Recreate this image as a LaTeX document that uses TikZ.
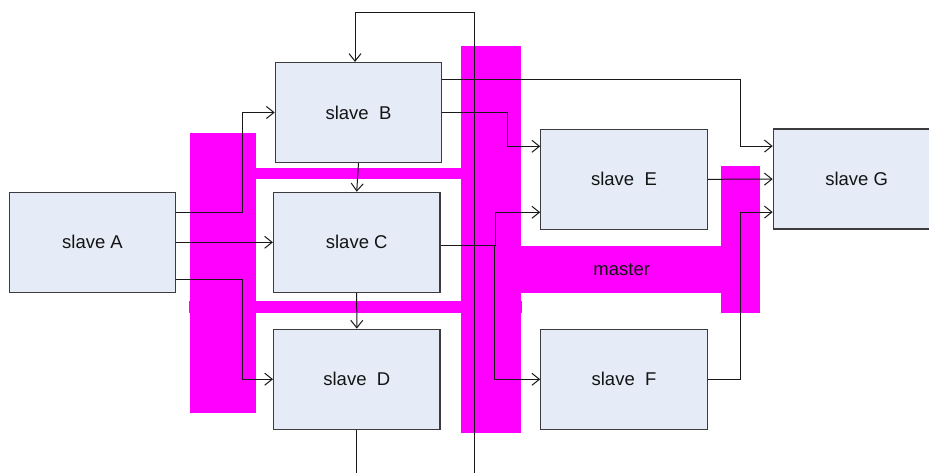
\documentclass[tikz,border=0pt]{standalone}
\usepackage{fontspec}
\setmainfont{Liberation Sans}
\usetikzlibrary{arrows.meta}
\definecolor{boxfill}{RGB}{229,236,247}
\definecolor{boxline}{RGB}{60,60,60}
\definecolor{wire}{RGB}{25,25,25}
\definecolor{bus}{RGB}{255,0,255}
\definecolor{txt}{RGB}{20,20,20}
\tikzset{
  slavebox/.style={draw=boxline, fill=boxfill, line width=1.2pt, minimum width=166.4pt,
    minimum height=100pt, inner sep=0pt, text=txt, font=\fontsize{18.5}{22}\selectfont},
  wireline/.style={draw=wire, line width=1pt},
  arr/.style={wireline, -{Straight Barb[length=7.5pt,width=12pt,line width=1pt]}},
  busfill/.style={fill=bus, draw=none}
}
\begin{document}
\begin{tikzpicture}[x=1pt,y=-1pt]
\useasboundingbox (0,0) rectangle (929,473);
\clip (0,0) rectangle (929,473);
% magenta bus shapes
\fill[busfill] (190,133) rectangle (256,413);
\fill[busfill] (256,168) rectangle (461.5,179.3);
\fill[busfill] (189,301) rectangle (521.7,312.5);
\fill[busfill] (461.3,46) rectangle (521,432.7);
\fill[busfill] (521,246) rectangle (721,292.7);
\fill[busfill] (721,166) rectangle (760,312.7);
\node[text=txt, font=\fontsize{18.5}{22}\selectfont] (master) at (621.7,269.3) {master};
% boxes
\node[slavebox] (A) at (92.5,242.3) {slave A};
\node[slavebox] (B) at (358.5,112.5) {slave~~B};
\node[slavebox] (C) at (356.7,242.3) {slave C};
\node[slavebox] (D) at (356.8,379.2) {slave~~D};
\node[slavebox] (E) at (624,179.3) {slave~~E};
\node[slavebox] (F) at (624,379.3) {slave~~F};
\node[slavebox, minimum width=200pt] (G) at (873.3,179.1) {slave G\hspace*{33.4pt}};
% free ends
\coordinate (busbot) at (474.3,473);
\coordinate (dout) at (356.8,473);
% connectors
\draw[arr] (busbot) -- (474.3,12.7) -| ([xshift=-3.5pt]B.north);
\draw[wireline] (D.south) -- (dout);
\draw[arr] (B.south) -- (C.north);
\draw[arr] (C.south) -- (D.north);
\draw[arr] ([yshift=30pt]A.east) -- (242.3,212.3) |- (B.west);
\draw[arr] (A.east) -- (C.west);
\draw[arr] ([yshift=-37pt]A.east) -- (242.3,279.3) |- (D.west);
\draw[arr] ([yshift=33pt]B.east) -- (740.7,79.5) |- ([yshift=33pt]G.west);
\draw[arr] (B.east) -- (507.7,112.5) |- ([yshift=33pt]E.west);
\draw[arr] ([yshift=-3.5pt]C.east) -- (495.7,245.8) |- ([yshift=-33pt]E.west);
\draw[arr] ([yshift=-3.5pt]C.east) -- (494.3,245.8) |- (F.west);
\draw[arr] (E.east) -- (G.west);
\draw[arr] (F.east) -- (740.7,379.3) |- ([yshift=-33pt]G.west);
\end{tikzpicture}
\end{document}
